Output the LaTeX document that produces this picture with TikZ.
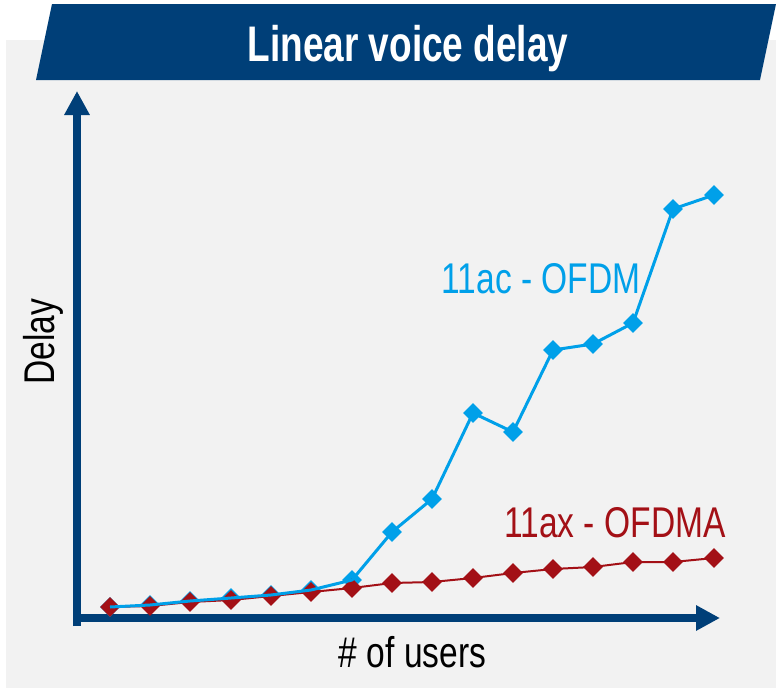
\documentclass[tikz,border=0pt]{standalone}
\usepackage{fontspec}
\setmainfont{Liberation Sans}
\newfontfamily\lblfont[FakeStretch=0.78]{Liberation Sans}
\newfontfamily\ttlfont[FakeStretch=0.74]{Liberation Sans Bold}
\usetikzlibrary{arrows.meta,shapes.geometric}
\definecolor{navy}{RGB}{0,63,120}
\definecolor{bgray}{RGB}{242,242,242}
\definecolor{lblue}{RGB}{0,160,233}
\definecolor{dred}{RGB}{163,16,22}
\tikzset{
  axisline/.style={navy, line width=8pt, -{Triangle[length=24pt,width=24pt]}},
  bmark/.style={diamond, fill=lblue, inner sep=0pt, minimum width=20pt, minimum height=20pt, aspect=1},
  rmark/.style={diamond, fill=dred, inner sep=0pt, minimum width=20pt, minimum height=20pt, aspect=1},
  blueline/.style={lblue, line width=3pt, line join=round},
  redline/.style={dred, line width=2pt, line join=round},
  lbl/.style={font=\lblfont\fontsize{43}{48}\selectfont, inner sep=0pt, anchor=base}
}
\begin{document}
\begin{tikzpicture}[x=1pt,y=-1pt]
\useasboundingbox (0,0) rectangle (776,688);
\fill[white] (0,0) rectangle (776,688);
\fill[bgray] (6,40) rectangle (776,688);
% banner
\fill[navy] (36,80) -- (52,4) -- (776,4) -- (760,80) -- cycle;
\node[font=\ttlfont\fontsize{50}{56}\selectfont, text=white, inner sep=0pt, anchor=base] (title) at (408,61) {Linear voice delay};
% axes
\coordinate (ybot) at (77,626);
\coordinate (ytip) at (77,91);
\coordinate (xleft) at (73,618);
\coordinate (xtip) at (720,618);
\draw[axisline] (ybot) -- (ytip);
\draw[axisline] (xleft) -- (xtip);
% data
\def\xs{110,150,190,231,271,311,352,392,432,473,513,553,593,633,673,714}
\def\blueys{607,605,601,598,595,590,580,532,499,413,432,350,344,323,209,195}
\def\redys{607,606,602,600,596,592,588,583,582,578,573,569,567,562,562,558}
\foreach \x [count=\i] in \xs {
  \pgfmathsetmacro{\yb}{{\blueys}[\i-1]}
  \node[bmark] (b\i) at (\x,\yb) {};
}
\foreach \x [count=\i] in \xs {
  \pgfmathsetmacro{\yr}{{\redys}[\i-1]}
  \coordinate (r\i) at (\x,\yr);
}
\draw[redline] (r1) \foreach \i in {2,...,16} { -- (r\i) };
\foreach \i in {1,...,16} {
  \node[rmark] (rm\i) at (r\i) {};
}
\draw[blueline] (b1.center) \foreach \i in {2,...,16} { -- (b\i.center) };
% labels
\node[lbl, text=lblue] (lac) at (541,293) {11ac - OFDM};
\node[lbl, text=dred] (lax) at (615,537) {11ax - OFDMA};
\node[lbl, text=black] (xlab) at (412.5,667) {\# of users};
\node[lbl, text=black, rotate=90] (ylab) at (54,341.5) {Delay};
\end{tikzpicture}
\end{document}
